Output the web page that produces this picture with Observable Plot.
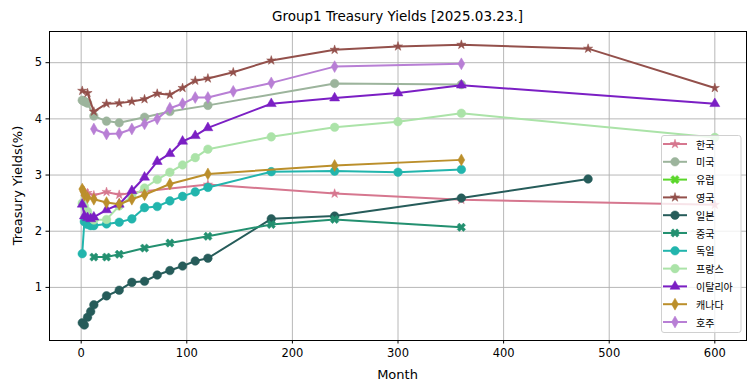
<!DOCTYPE html>
<html><head><meta charset="utf-8">
<script src="https://cdn.jsdelivr.net/npm/d3@7"></script>
<script src="https://cdn.jsdelivr.net/npm/@observablehq/plot@0.6"></script>
<style>body{margin:0;background:#fff} svg{display:block}</style>
</head><body><div id="chart"></div>
<script>
const countries = ["한국","미국","유럽","영국","일본","중국","독일","프랑스","이탈리아","캐나다","호주"];
const colors = ["#d6778f","#9cb49c","#5ad62a","#93504b","#265c5a","#239070","#22b5ad","#abe3a8","#7b1fc4","#bb8f2b","#b87fd5"];
const markers = ["star","circle","X","star","circle","X","circle","circle","triangle","diamond","diamond"];

const krMonths = [3, 6, 12, 24, 36, 60, 120, 240, 360, 600];
const krYields = [2.71, 2.68, 2.64, 2.70, 2.65, 2.71, 2.83, 2.67, 2.56, 2.47];
const usMonths = [1, 2, 3, 4, 6, 12, 24, 36, 60, 84, 120, 240, 360];
const usYields = [4.33, 4.32, 4.31, 4.30, 4.28, 4.05, 3.96, 3.93, 4.03, 4.13, 4.24, 4.63, 4.61];
const euMonths = [];
const euYields = [];
const ukMonths = [1, 6, 12, 24, 36, 48, 60, 72, 84, 96, 108, 120, 144, 180, 240, 300, 360, 480, 600];
const ukYields = [4.50, 4.46, 4.13, 4.27, 4.28, 4.31, 4.35, 4.45, 4.43, 4.55, 4.68, 4.72, 4.83, 5.04, 5.23, 5.29, 5.32, 5.25, 4.55];
const jpMonths = [1, 3, 6, 9, 12, 24, 36, 48, 60, 72, 84, 96, 108, 120, 180, 240, 360, 480];
const jpYields = [0.37, 0.33, 0.47, 0.57, 0.69, 0.85, 0.95, 1.09, 1.11, 1.22, 1.30, 1.38, 1.47, 1.52, 2.22, 2.27, 2.59, 2.93];
const cnMonths = [12, 24, 36, 60, 84, 120, 180, 240, 360];
const cnYields = [1.54, 1.54, 1.59, 1.70, 1.79, 1.91, 2.12, 2.21, 2.07];
const deMonths = [1, 3, 6, 9, 12, 24, 36, 48, 60, 72, 84, 96, 108, 120, 180, 240, 300, 360];
const deYields = [1.60, 2.17, 2.12, 2.10, 2.10, 2.13, 2.16, 2.22, 2.42, 2.44, 2.54, 2.62, 2.70, 2.78, 3.06, 3.07, 3.05, 3.10];
const frMonths = [1, 3, 6, 9, 12, 24, 36, 48, 60, 72, 84, 96, 108, 120, 180, 240, 300, 360, 600];
const frYields = [2.50, 2.45, 2.35, 2.25, 2.20, 2.21, 2.45, 2.62, 2.77, 2.92, 3.05, 3.18, 3.31, 3.46, 3.68, 3.85, 3.95, 4.10, 3.67];
const itMonths = [1, 3, 6, 9, 12, 24, 36, 48, 60, 72, 84, 96, 108, 120, 180, 240, 300, 360, 600];
const itYields = [2.48, 2.27, 2.24, 2.22, 2.25, 2.38, 2.48, 2.72, 2.96, 3.24, 3.38, 3.60, 3.70, 3.84, 4.27, 4.37, 4.46, 4.60, 4.27];
const caMonths = [1, 2, 3, 6, 12, 24, 36, 48, 60, 84, 120, 240, 360];
const caYields = [2.75, 2.71, 2.64, 2.60, 2.57, 2.51, 2.48, 2.57, 2.65, 2.84, 3.02, 3.17, 3.27];
const auMonths = [12, 24, 36, 48, 60, 72, 84, 96, 108, 120, 144, 180, 240, 360];
const auYields = [3.82, 3.73, 3.74, 3.82, 3.91, 4.00, 4.19, 4.27, 4.38, 4.38, 4.49, 4.64, 4.93, 4.98];

const xTicks = [0, 100, 200, 300, 400, 500, 600];
const yTicks = [1, 2, 3, 4, 5];
const titleText = "Group1 Treasury Yields [2025.03.23.]";
const xLabel = "Month";
const yLabel = "Treasury Yields(%)";

const seriesMonths = [krMonths, usMonths, euMonths, ukMonths, jpMonths, cnMonths, deMonths, frMonths, itMonths, caMonths, auMonths];
const seriesYields = [krYields, usYields, euYields, ukYields, jpYields, cnYields, deYields, frYields, itYields, caYields, auYields];

// filled "X" marker (matplotlib 'X')
const symbolX = {
  draw(ctx, size) {
    const r = Math.sqrt(size / Math.PI);
    const s = r * 1.05, w = r * 0.36;
    const pts = [[w,s],[w,w],[s,w],[s,-w],[w,-w],[w,-s],[-w,-s],[-w,-w],[-s,-w],[-s,w],[-w,w],[-w,s]];
    const c = Math.SQRT1_2;
    pts.forEach(([x,y], i) => {
      const X = c*(x - y), Y = c*(x + y);
      if (i === 0) ctx.moveTo(X, Y); else ctx.lineTo(X, Y);
    });
    ctx.closePath();
  }
};
const symFor = m => m === "X" ? symbolX : m;
const rFor = m => ({star: 2.9, circle: 4.3, X: 4.2, triangle: 3.7, diamond: 3.6}[m]);

const seriesMarks = [];
countries.forEach((c, i) => {
  const rows = seriesMonths[i].map((m, j) => ({country: c, month: m, y: seriesYields[i][j]}));
  if (!rows.length) return;
  seriesMarks.push(Plot.line(rows, {x: "month", y: "y", stroke: colors[i], strokeWidth: 2}));
  seriesMarks.push(Plot.dot(rows, {x: "month", y: "y", fill: colors[i], stroke: colors[i], strokeWidth: 0.5, symbol: symFor(markers[i]), r: rFor(markers[i])}));
});

const W = 755, H = 391, ML = 49, MR = 9, MT = 31, MB = 51;
const svgNode = Plot.plot({
  width: W, height: H,
  marginLeft: ML, marginRight: MR, marginTop: MT, marginBottom: MB,
  style: {fontFamily: "DejaVu Sans", fontSize: "11px", color: "black", background: "white"},
  x: {domain: [-30, 630], label: null},
  y: {domain: [0.055, 5.555], label: null},
  marks: [
    Plot.gridX(xTicks, {stroke: "#b0b0b0", strokeOpacity: 1, strokeWidth: 0.9}),
    Plot.gridY(yTicks, {stroke: "#b0b0b0", strokeOpacity: 1, strokeWidth: 0.9}),
    ...seriesMarks,
    Plot.frame({stroke: "black", strokeWidth: 1}),
    Plot.axisX(xTicks, {tickSize: 3.5, tickPadding: 5, fontSize: 11.5, label: null, stroke: "black", tickFormat: d => String(d)}),
    Plot.axisY(yTicks, {tickSize: 3.5, tickPadding: 4, fontSize: 11.5, label: null, stroke: "black", tickFormat: d => String(d)})
  ]
});
document.getElementById("chart").appendChild(svgNode);

const svg = d3.select(svgNode);
const cx = (ML + (W - MR)) / 2;
svg.append("text").attr("x", cx).attr("y", 16).attr("text-anchor", "middle").attr("dominant-baseline", "central")
  .attr("font-family", "DejaVu Sans").attr("font-size", 13.5).attr("fill", "black").text(titleText);
svg.append("text").attr("x", cx).attr("y", 374).attr("text-anchor", "middle").attr("dominant-baseline", "central")
  .attr("font-family", "DejaVu Sans").attr("font-size", 13).attr("fill", "black").text(xLabel);
svg.append("text").attr("transform", `translate(17,${(MT + H - MB) / 2}) rotate(-90)`).attr("text-anchor", "middle").attr("dominant-baseline", "central")
  .attr("font-family", "DejaVu Sans").attr("font-size", 13).attr("fill", "black").text(yLabel);

// legend
const lg = svg.append("g");
const lx = 661.5, ly = 135.5, lw = 79.5, lh = 197, rowH = 17.8, row0 = 144;
lg.append("rect").attr("x", lx).attr("y", ly).attr("width", lw).attr("height", lh).attr("rx", 2.5)
  .attr("fill", "white").attr("fill-opacity", 0.8).attr("stroke", "#d0d0d0").attr("stroke-width", 1);
countries.forEach((c, i) => {
  const y = row0 + i * rowH;
  lg.append("line").attr("x1", 663).attr("x2", 687).attr("y1", y).attr("y2", y).attr("stroke", colors[i]).attr("stroke-width", 2);
  const m = markers[i];
  const sym = m === "X" ? symbolX : {star: d3.symbolStar, circle: d3.symbolCircle, triangle: d3.symbolTriangle, diamond: d3.symbolDiamond}[m];
  const r = rFor(m);
  lg.append("path").attr("transform", `translate(675,${y})`).attr("d", d3.symbol(sym, r * r * Math.PI)())
    .attr("fill", colors[i]).attr("stroke", colors[i]).attr("stroke-width", 0.5);
  lg.append("text").attr("x", 696).attr("y", y).attr("text-anchor", "start").attr("dominant-baseline", "central")
    .attr("font-family", "Noto Sans CJK KR").attr("font-size", 10).attr("fill", "black").text(c);
});
</script>
</body></html>
